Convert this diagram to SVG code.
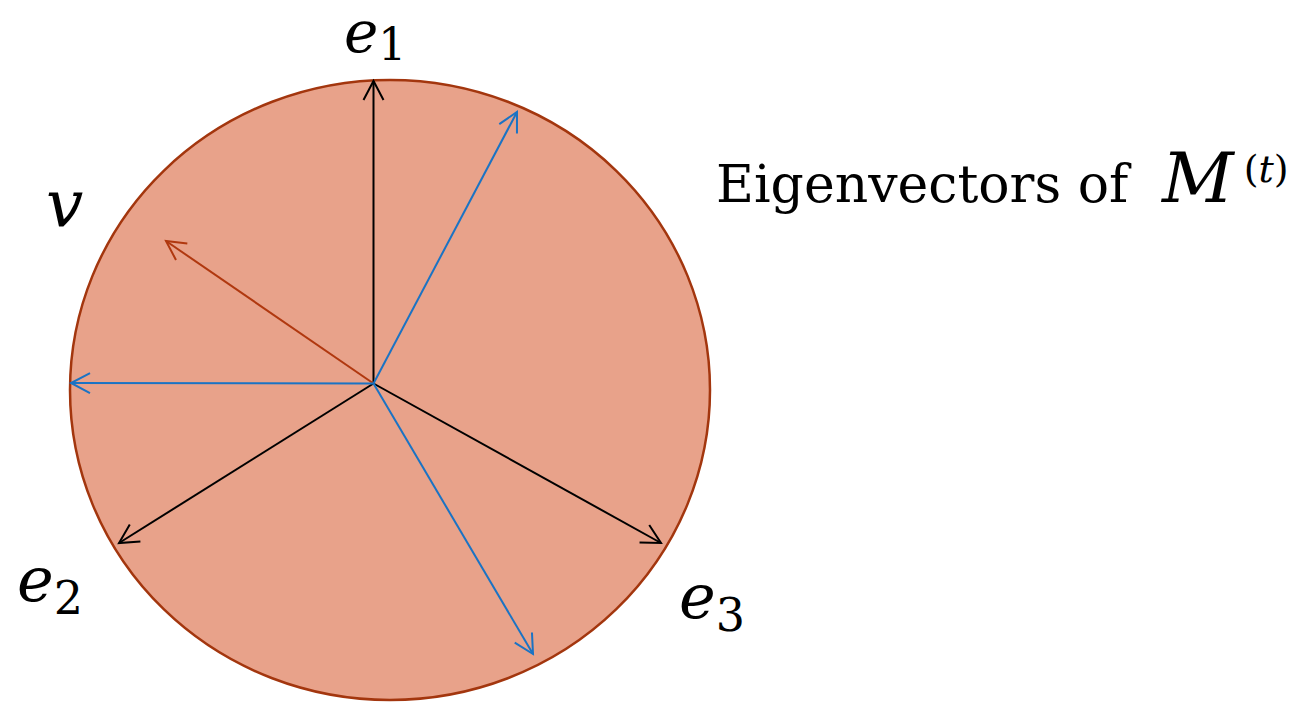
<svg xmlns="http://www.w3.org/2000/svg" width="1311" height="704" viewBox="0 0 1311 704">
  <style>
    text { font-family: 'DejaVu Serif', 'Liberation Serif', serif; fill: #000; }
    .math { font-style: italic; }
    .sub { font-style: normal; }
    .vec { stroke-width: 2; fill: none; }
  </style>
  <defs>
    <marker id="ahBlack" markerUnits="userSpaceOnUse" markerWidth="30" markerHeight="30" viewBox="-25 -15 30 30" refX="0" refY="0" orient="auto" overflow="visible">
      <path d="M-19,-10 L0,0 L-19,10" fill="none" stroke="#000" stroke-width="2"/>
    </marker>
    <marker id="ahBlue" markerUnits="userSpaceOnUse" markerWidth="30" markerHeight="30" viewBox="-25 -15 30 30" refX="0" refY="0" orient="auto" overflow="visible">
      <path d="M-19,-10 L0,0 L-19,10" fill="none" stroke="#1A73C4" stroke-width="2"/>
    </marker>
    <marker id="ahRed" markerUnits="userSpaceOnUse" markerWidth="30" markerHeight="30" viewBox="-25 -15 30 30" refX="0" refY="0" orient="auto" overflow="visible">
      <path d="M-19,-10 L0,0 L-19,10" fill="none" stroke="#B0380F" stroke-width="2"/>
    </marker>
  </defs>

  <g id="disk">
    <ellipse cx="390" cy="390" rx="320" ry="310" fill="#E8A28A" stroke="#A3360E" stroke-width="2.5"/>
  </g>

  <g id="connectors">
    <line class="vec" x1="373.5" y1="383.5" x2="373.5" y2="81" stroke="#000" marker-end="url(#ahBlack)"/>
    <line class="vec" x1="373.5" y1="383.5" x2="119" y2="543" stroke="#000" marker-end="url(#ahBlack)"/>
    <line class="vec" x1="373.5" y1="383.5" x2="661" y2="543" stroke="#000" marker-end="url(#ahBlack)"/>
    <line class="vec" x1="373.5" y1="383.5" x2="166" y2="241" stroke="#B0380F" marker-end="url(#ahRed)"/>
    <line class="vec" x1="373.5" y1="383.5" x2="517" y2="112" stroke="#1A73C4" marker-end="url(#ahBlue)"/>
    <line class="vec" x1="373.5" y1="383.5" x2="71" y2="383" stroke="#1A73C4" marker-end="url(#ahBlue)"/>
    <line class="vec" x1="373.5" y1="383.5" x2="533" y2="654" stroke="#1A73C4" marker-end="url(#ahBlue)"/>
  </g>

  <g id="label-e1">
    <text class="math" x="344" y="52" font-size="58">e<tspan class="sub" font-size="44" dy="8">1</tspan></text>
  </g>
  <g id="label-v">
    <text class="math" x="46" y="227" font-size="66">v</text>
  </g>
  <g id="label-e2">
    <text class="math" x="17" y="601" font-size="62">e<tspan class="sub" font-size="46" dy="13">2</tspan></text>
  </g>
  <g id="label-e3">
    <text class="math" x="679" y="618" font-size="62">e<tspan class="sub" font-size="46" dy="13">3</tspan></text>
  </g>
  <g id="title">
    <text x="716" y="202"><tspan font-size="52">Eigenvectors of</tspan><tspan x="1162" class="math" font-size="70">M</tspan><tspan font-size="38" dx="10" dy="-20">(</tspan><tspan class="math" font-size="38">t</tspan><tspan font-size="38">)</tspan></text>
  </g>
</svg>
